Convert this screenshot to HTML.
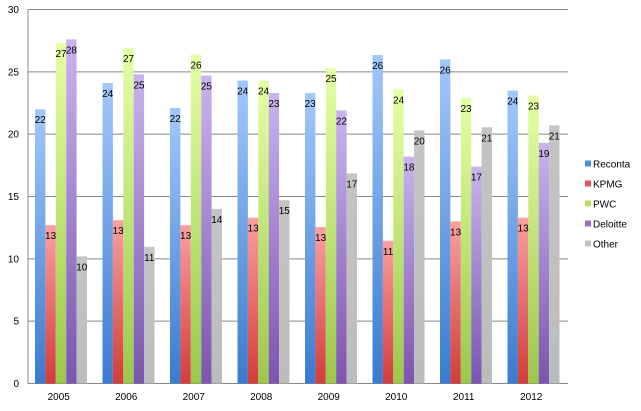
<!DOCTYPE html>
<html><head><meta charset="utf-8"><style>
body{margin:0;background:#fff;}
svg text{font-family:"Liberation Sans",sans-serif;}
</style></head><body>
<svg id="chart" width="641" height="406" viewBox="0 0 641 406">
<defs>
<linearGradient id="g0" x1="0" y1="0" x2="0" y2="1"><stop offset="0" stop-color="#a2c8fb"/><stop offset="1" stop-color="#3a7bcf"/></linearGradient>
<linearGradient id="g1" x1="0" y1="0" x2="0" y2="1"><stop offset="0" stop-color="#fba0a0"/><stop offset="1" stop-color="#d23c3c"/></linearGradient>
<linearGradient id="g2" x1="0" y1="0" x2="0" y2="1"><stop offset="0" stop-color="#e4ffa6"/><stop offset="1" stop-color="#9bc84a"/></linearGradient>
<linearGradient id="g3" x1="0" y1="0" x2="0" y2="1"><stop offset="0" stop-color="#cbb3ee"/><stop offset="1" stop-color="#7b55af"/></linearGradient>
<linearGradient id="g4" x1="0" y1="0" x2="0" y2="1"><stop offset="0" stop-color="#c4c4c4"/><stop offset="1" stop-color="#bcbcbc"/></linearGradient>
</defs>
<g id="grid"></g><g id="bars"></g><g id="labels"></g><g id="legend"></g>
</svg>
<script>
const categories = ["2005","2006","2007","2008","2009","2010","2011","2012"];
const seriesNames = ["Reconta","KPMG","PWC","Deloitte","Other"];
const reconta = [22.0,24.1,22.1,24.3,23.3,26.35,26.0,23.5];
const kpmg = [12.7,13.1,12.7,13.3,12.55,11.45,13.0,13.3];
const pwc = [27.3,26.9,26.4,24.3,25.3,23.6,22.9,23.1];
const deloitte = [27.6,24.8,24.7,23.3,21.9,18.2,17.4,19.3];
const other = [10.2,10.96,14.0,14.7,16.85,20.3,20.55,20.7];
const yTicks = [0,5,10,15,20,25,30];
const series = [reconta,kpmg,pwc,deloitte,other];
const NS="http://www.w3.org/2000/svg";
const L=28,R=568,T=9.5,B=383.5,YMAX=30;
const y=v=>B-(v/YMAX)*(B-T);
const gw=(R-L)/categories.length, bw=10.4, off=7;
const x=(i,s)=>L+i*gw+off+s*bw;
function mk(tag,attrs,parent){const e=document.createElementNS(NS,tag);for(const k in attrs)e.setAttribute(k,attrs[k]);parent.appendChild(e);return e;}
const grid=document.getElementById('grid'),bars=document.getElementById('bars'),labels=document.getElementById('labels'),legend=document.getElementById('legend');
yTicks.forEach(t=>{
  const ln=mk('line',{x1:L,x2:R,y1:y(t),y2:y(t),stroke:'#888','stroke-width':1},grid);
  
  
  const tx=mk('text',{x:19,y:y(t)+3.5,'font-size':10,'text-anchor':'end',fill:'#000'},grid);
  tx.textContent=t;
  
  
});
const ax=mk('line',{x1:L,x2:L,y1:T,y2:B,stroke:'#888','stroke-width':1},grid);


categories.forEach((c,i)=>{
  const tx=mk('text',{x:L+i*gw+gw/2-3,y:400,'font-size':10,'text-anchor':'middle',fill:'#000'},labels);
  tx.textContent=c;
  
  
  series.forEach((arr,s)=>{
    const v=arr[i];
    const r=mk('rect',{x:x(i,s),y:y(v),width:bw,height:B-y(v),fill:'url(#g'+s+')'},bars);
    
    
    const lt=mk('text',{x:x(i,s)+bw/2,y:y(v)+14,'font-size':10,'text-anchor':'middle',fill:'#000'},labels);
    lt.textContent=Math.round(v);
    
    
  });
});
const legCols=['#4b8ee0','#e05555','#b2e060','#9470c8','#c0c0c0'];
seriesNames.forEach((n,s)=>{
  const yy=164+s*20;
  const sq=mk('rect',{x:585,y:yy-3.5,width:6,height:6,fill:legCols[s]},legend);
  
  
  const t=mk('text',{x:593,y:yy+3.5,'font-size':10,fill:'#000'},legend);
  t.textContent=n;
  
  
});
</script>
</body></html>
